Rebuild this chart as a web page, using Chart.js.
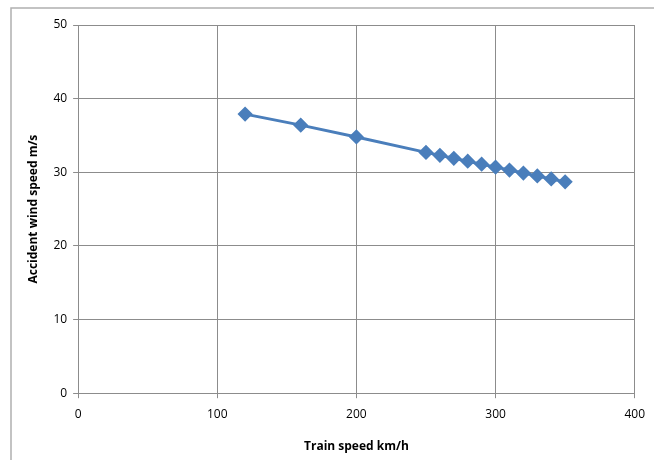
<!DOCTYPE html>
<html>
<head>
<meta charset="utf-8">
<script src="https://cdn.jsdelivr.net/npm/chart.js@4"></script>
<style>
  html, body { margin: 0; padding: 0; background: #fff; }
  #wrap { width: 654px; height: 460px; position: relative; }
</style>
</head>
<body>
<div id="wrap"><canvas id="chart"></canvas></div>
<script>
// train speed (km/h) and accident wind speed (m/s)
const trainSpeed = [120, 160, 200, 250, 260, 270, 280, 290, 300, 310, 320, 330, 340, 350];
const windSpeed = [37.9, 36.4, 34.8, 32.7, 32.3, 31.9, 31.5, 31.1, 30.7, 30.3, 29.9, 29.5, 29.1, 28.7];
const xTicks = [0, 100, 200, 300, 400];
const yTicks = [0, 10, 20, 30, 40, 50];

// outer frame like the spreadsheet chart area (top + left edges)
const framePlugin = {
  id: 'frame',
  afterDraw(chart) {
    const ctx = chart.ctx;
    ctx.save();
    ctx.strokeStyle = '#b0b0b0';
    ctx.lineWidth = 1.5;
    ctx.beginPath();
    ctx.moveTo(11, 460);
    ctx.lineTo(11, 8);
    ctx.lineTo(654, 8);
    ctx.stroke();
    ctx.restore();
  }
};

const points = trainSpeed.map((x, i) => ({ x: x, y: windSpeed[i] }));

new Chart(document.getElementById('chart'), {
  type: 'line',
  data: {
    datasets: [{
      data: points,
      borderColor: '#4a7ebb',
      backgroundColor: '#4a7ebb',
      borderWidth: 3,
      pointStyle: 'rectRot',
      pointRadius: 5.5,
      pointHoverRadius: 5.5,
      tension: 0
    }]
  },
  options: {
    responsive: true,
    maintainAspectRatio: false,
    animation: false,
    layout: { padding: { left: 22, right: 17, top: 25, bottom: 2 } },
    plugins: { legend: { display: false }, tooltip: { enabled: false } },
    scales: {
      x: {
        type: 'linear',
        min: 0, max: 400,
        afterBuildTicks: (s) => { s.ticks = xTicks.map(v => ({ value: v })); },
        grid: { color: '#8c8c8c', lineWidth: 1, tickLength: 5, drawTicks: true },
        border: { color: '#8c8c8c' },
        ticks: { color: '#000', font: { family: 'Open Sans', size: 12 }, padding: 9, maxRotation: 0 },
        title: { display: true, text: 'Train speed km/h', color: '#000', font: { family: 'Open Sans', size: 12, weight: 'bold' }, padding: { top: 9 } }
      },
      y: {
        min: 0, max: 50,
        afterBuildTicks: (s) => { s.ticks = yTicks.map(v => ({ value: v })); },
        grid: { color: '#8c8c8c', lineWidth: 1, tickLength: 5, drawTicks: true },
        border: { color: '#8c8c8c' },
        ticks: { color: '#000', font: { family: 'Open Sans', size: 12 }, padding: 6 },
        title: { display: true, text: 'Accident wind speed m/s', color: '#000', font: { family: 'Open Sans', size: 12, weight: 'bold' }, padding: { bottom: 7 } }
      }
    }
  },
  plugins: [framePlugin]
});
</script>
</body>
</html>
